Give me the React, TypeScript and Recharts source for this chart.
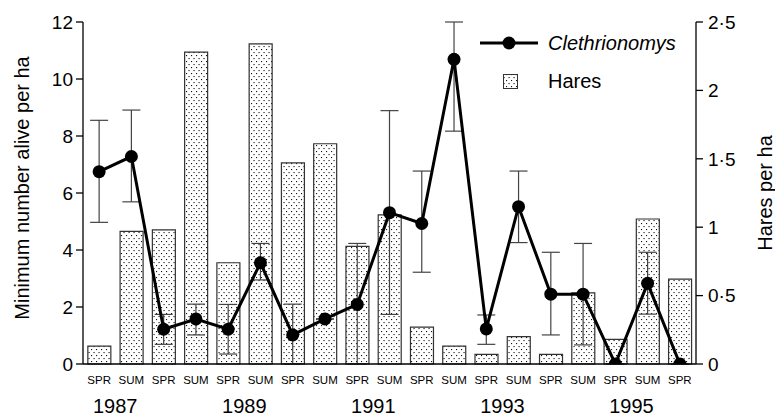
import React from 'react';
import {
  ComposedChart, Bar, Line, XAxis, YAxis, ErrorBar, Legend
} from 'recharts';

// season labels along the x axis, spring 1987 to spring 1996
const seasons = ['SPR', 'SUM', 'SPR', 'SUM', 'SPR', 'SUM', 'SPR', 'SUM', 'SPR', 'SUM',
  'SPR', 'SUM', 'SPR', 'SUM', 'SPR', 'SUM', 'SPR', 'SUM', 'SPR'];
const yearLabels = ['1987', '', '', '', '1989', '', '', '', '1991', '', '', '', '1993', '', '', '', '1995', '', ''];

// hares per ha (right axis)
const hares = [0.13, 0.97, 0.98, 2.28, 0.74, 2.34, 1.47, 1.61, 0.86, 1.09, 0.27, 0.13, 0.07, 0.2, 0.07, 0.52, 0.18, 1.06, 0.62];

// Clethrionomys minimum number alive per ha (left axis) with error bounds
const clet = [6.75, 7.28, 1.22, 1.58, 1.22, 3.55, 1.02, 1.58, 2.09, 5.31, 4.93, 10.69, 1.23, 5.52, 2.45, 2.45, 0, 2.83, 0];
const cletLow = [4.97, 5.69, 0.69, 1.02, 0.35, 2.95, 0, 1.58, 0, 1.74, 3.22, 8.17, 0.69, 4.26, 1.02, 0.67, 0, 1.75, 0];
const cletHigh = [8.55, 8.91, 1.74, 2.1, 2.09, 4.23, 2.1, 1.58, 4.23, 8.89, 6.77, 12, 1.72, 6.77, 3.92, 4.23, 0, 3.92, 0];

const leftTicks = [0, 2, 4, 6, 8, 10, 12];
const rightTicks = [0, 0.5, 1, 1.5, 2, 2.5];

const data = seasons.map((s, i) => ({
  season: s,
  year: yearLabels[i],
  hares: hares[i],
  clet: clet[i],
  err: [clet[i] - cletLow[i], cletHigh[i] - clet[i]],
}));

const FONT = '"Liberation Sans", Arial, Helvetica, sans-serif';
const W = 775;
const H = 416;
const LEFT_W = 83;
const RIGHT_W = 79;
const STEP = (W - LEFT_W - RIGHT_W) / seasons.length;

const SeasonTick = (props: any) => {
  const { x, y, payload } = props;
  const yr = yearLabels[payload.index];
  return (
    <g>
      <text x={x} y={y} dy={12} textAnchor="middle" fontSize={11.5} fill="#000" fontFamily={FONT}>
        {payload.value}
      </text>
      {yr ? (
        <text x={x + STEP / 2} y={y} dy={41} textAnchor="middle" fontSize={20} fill="#000" fontFamily={FONT}>
          {yr}
        </text>
      ) : null}
    </g>
  );
};

const fmtRight = (v: number) => String(v).replace('.', '\u00b7');

const LegendBox = () => (
  <div style={{ fontFamily: FONT, fontSize: 20, color: '#000' }}>
    <div style={{ display: 'flex', alignItems: 'center', height: 38 }}>
      <svg width={68} height={16}>
        <line x1={0} y1={8} x2={58} y2={8} stroke="#000" strokeWidth={3} />
        <circle cx={29} cy={8} r={6.5} fill="#000" />
      </svg>
      <span style={{ fontStyle: 'italic' }}>Clethrionomys</span>
    </div>
    <div style={{ display: 'flex', alignItems: 'center', height: 38 }}>
      <svg width={68} height={16}>
        <rect x={23.5} y={1.5} width={14} height={14} fill="url(#dots)" stroke="#333" strokeWidth={1} />
      </svg>
      <span>Hares</span>
    </div>
  </div>
);

export default function App() {
  return (
    <div style={{ position: 'absolute', left: 0, top: 0, background: '#fff' }}>
      <ComposedChart
        width={W}
        height={H}
        data={data}
        margin={{ top: 22, right: 0, left: 0, bottom: 0 }}
        barCategoryGap="15%"
      >
        <defs>
          <pattern id="dots" width={5} height={6} patternUnits="userSpaceOnUse">
            <rect width={5} height={6} fill="#fff" />
            <rect x={1} y={1} width={1.1} height={1.1} fill="#111" />
            <rect x={3.5} y={4} width={1.1} height={1.1} fill="#111" />
          </pattern>
        </defs>
        <XAxis
          dataKey="season"
          interval={0}
          height={52}
          tickLine={false}
          axisLine={{ stroke: '#000', strokeWidth: 1.3 }}
          tick={<SeasonTick />}
        />
        <YAxis
          yAxisId="left"
          width={LEFT_W}
          domain={[0, 12]}
          ticks={leftTicks}
          allowDataOverflow
          tickSize={7}
          tickMargin={3}
          axisLine={{ stroke: '#000', strokeWidth: 1.3 }}
          tickLine={{ stroke: '#000', strokeWidth: 1.3 }}
          tick={{ fontSize: 19, fill: '#000', fontFamily: FONT }}
          label={{
            content: (p: any) => {
              const vb = p.viewBox;
              const cx = 22;
              const cy = vb.y + vb.height / 2 - 5;
              return (
                <text x={cx} y={cy} transform={`rotate(-90 ${cx} ${cy})`} textAnchor="middle"
                  dominantBaseline="central" fontSize={20} fill="#000" fontFamily={FONT}>
                  Minimum number alive per ha
                </text>
              );
            },
          }}
        />
        <YAxis
          yAxisId="right"
          orientation="right"
          width={RIGHT_W}
          domain={[0, 2.5]}
          ticks={rightTicks}
          tickFormatter={fmtRight}
          tickSize={7}
          tickMargin={5}
          axisLine={{ stroke: '#000', strokeWidth: 1.3 }}
          tickLine={{ stroke: '#000', strokeWidth: 1.3 }}
          tick={{ fontSize: 19, fill: '#000', fontFamily: FONT }}
          label={{
            content: (p: any) => {
              const vb = p.viewBox;
              const cx = vb.x + 69;
              const cy = vb.y + vb.height / 2;
              return (
                <text x={cx} y={cy} transform={`rotate(-90 ${cx} ${cy})`} textAnchor="middle"
                  dominantBaseline="central" fontSize={20} fill="#000" fontFamily={FONT}>
                  Hares per ha
                </text>
              );
            },
          }}
        />
        <Bar
          yAxisId="right"
          dataKey="hares"
          fill="url(#dots)"
          stroke="#333"
          strokeWidth={1.2}
          isAnimationActive={false}
        />
        <Line
          yAxisId="left"
          dataKey="clet"
          type="linear"
          stroke="#000"
          strokeWidth={3}
          dot={{ r: 6.5, fill: '#000', stroke: '#000', strokeWidth: 0 }}
          activeDot={false}
          isAnimationActive={false}
        >
          <ErrorBar dataKey="err" width={9} stroke="#444" strokeWidth={1.2} direction="y" />
        </Line>
        <Legend
          layout="horizontal"
          verticalAlign="middle"
          align="center"
          content={<LegendBox />}
          wrapperStyle={{ top: 24, left: 480, width: 230, height: 80 }}
        />
      </ComposedChart>
    </div>
  );
}
